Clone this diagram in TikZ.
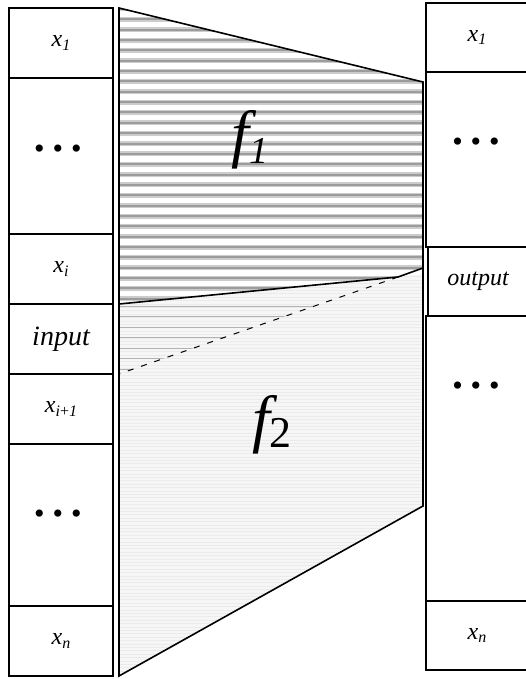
\documentclass[tikz,border=0pt]{standalone}
\usepackage{fontspec}
\setmainfont{Liberation Serif}
\newcommand{\cellsub}[1]{\raisebox{-0.35ex}{\fontsize{16}{16}\selectfont #1}}
\newcommand{\threedots}{\textbullet\hspace{8pt}\textbullet\hspace{8pt}\textbullet}

\begin{document}
\begin{tikzpicture}[x=1pt,y=-1pt,
  cell/.style={draw,line width=1.6pt,minimum width=104pt,inner sep=0pt,
               font=\fontsize{24}{24}\selectfont\itshape},
  rcell/.style={cell,minimum width=102pt},
  dotrow/.style={inner sep=0pt,font=\fontsize{30}{30}\selectfont},
  edge/.style={line width=1.6pt},
  band/.style={line width=5pt,draw=gray!40},
  bandcore/.style={line width=2pt,draw=gray!78},
  fine/.style={line width=0.9pt,draw=gray!16},
  mid/.style={line width=0.9pt,draw=gray!60}
]
\useasboundingbox (0,0) rectangle (526,679);

% input column
\node[cell,minimum height=70pt]  (lx1)   at (61,43)  {x\cellsub{1}};
\node[cell,minimum height=156pt] (ldotA) at (61,156) {};
\node[cell,minimum height=70pt]  (lxi)   at (61,269) {x\cellsub{\itshape i}};
\node[cell,minimum height=70pt,font=\fontsize{28}{28}\selectfont\itshape] (lin) at (61,339) {input};
\node[cell,minimum height=70pt]  (lxj)   at (61,409) {x\cellsub{\itshape i\upshape+\itshape 1}};
\node[cell,minimum height=162pt] (ldotB) at (61,525) {};
\node[cell,minimum height=70pt]  (lxn)   at (61,641) {x\cellsub{\itshape n}};
\node[dotrow] (ldotAt) at (58,152) {\threedots};
\node[dotrow] (ldotBt) at (58,517) {\threedots};

% output column
\node[rcell,minimum height=69pt]  (rx1)   at (477,37.5)  {x\cellsub{1}};
\node[rcell,minimum height=175pt] (rdotA) at (477,159.5) {};
\node[rcell,minimum height=285pt] (rdotB) at (477,458.5) {};
\node[rcell,minimum height=69pt]  (rxn)   at (477,635.5) {x\cellsub{\itshape n}};
\node[cell,minimum width=100pt,minimum height=69pt] (rout) at (478,281.5) {output};
\node[dotrow] (rdotAt) at (476,145) {\threedots};
\node[dotrow] (rdotBt) at (476,389) {\threedots};

% the two maps
\coordinate (tl) at (119,8);
\coordinate (tr) at (423,82);
\coordinate (kk) at (398,277);
\coordinate (ka) at (423,268);
\coordinate (kb) at (423,274);
\coordinate (ml) at (119,304);
\coordinate (dl) at (119,374);
\coordinate (br) at (423,506);
\coordinate (bl) at (119,676);

\fill[gray!7] (ml) -- (kk) -- (kb) -- (br) -- (bl) -- cycle;
\begin{scope}
  \clip (ml) -- (kk) -- (kb) -- (br) -- (bl) -- cycle;
  \foreach \yy in {270,273.4,...,680} \draw[fine] (110,\yy) -- (430,\yy);
\end{scope}
\begin{scope}
  \clip (ml) -- (kk) -- (dl) -- cycle;
  \foreach \yy in {306,316.5,...,374} \draw[mid] (110,\yy) -- (430,\yy);
\end{scope}
\begin{scope}
  \clip (tl) -- (tr) -- (ka) -- (kk) -- (ml) -- cycle;
  \foreach \yy in {9,19.35,...,305} {
    \draw[band] (110,\yy) -- (430,\yy);
    \draw[bandcore] (110,\yy) -- (430,\yy);
  }
\end{scope}

\draw[edge] (bl) -- (tl) -- (tr) -- (br) -- cycle;
\draw[edge] (ml) -- (kk) -- (ka);
\draw[line width=1pt,dash pattern=on 6pt off 8pt] (kk) -- (dl);

\node[inner sep=0pt] (f1) at (250,140)
  {\fontsize{64}{64}\selectfont\itshape f\raisebox{-0.12em}{\fontsize{38}{38}\selectfont 1}};
\node[inner sep=0pt] (f2) at (272,425)
  {\fontsize{64}{64}\selectfont\itshape f\raisebox{-0.1em}{\fontsize{44}{44}\selectfont\upshape 2}};
\end{tikzpicture}
\end{document}
